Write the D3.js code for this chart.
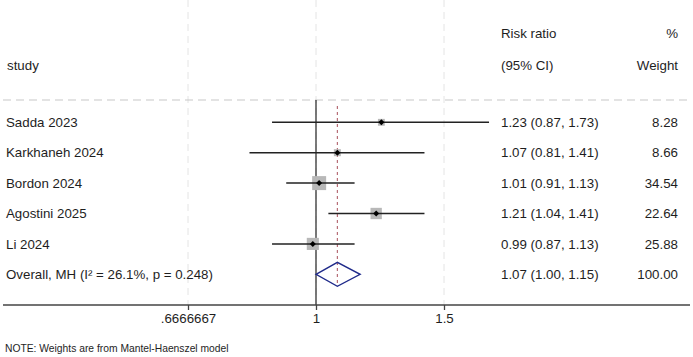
<!DOCTYPE html>
<html>
<head>
<meta charset="utf-8">
<script src="https://cdn.jsdelivr.net/npm/d3@7"></script>
<style>
  html, body { margin: 0; padding: 0; background: #fff; }
  svg { display: block; font-family: "Liberation Sans", Arial, Helvetica, sans-serif; }
</style>
</head>
<body>
<svg id="chart" width="693" height="357"></svg>
<script>
// ---- data ----
const studies = ["Sadda 2023", "Karkhaneh 2024", "Bordon 2024", "Agostini 2025", "Li 2024"];
const rr      = [1.23, 1.07, 1.01, 1.21, 0.99];
const ciLow   = [0.87, 0.81, 0.91, 1.04, 0.87];
const ciHigh  = [1.73, 1.41, 1.13, 1.41, 1.13];
const weights = [8.28, 8.66, 34.54, 22.64, 25.88];
const ciText  = ["1.23 (0.87, 1.73)", "1.07 (0.81, 1.41)", "1.01 (0.91, 1.13)", "1.21 (1.04, 1.41)", "0.99 (0.87, 1.13)"];
const weightText = ["8.28", "8.66", "34.54", "22.64", "25.88"];
const overallLabel = "Overall, MH (I\u00B2 = 26.1%, p = 0.248)";
const overallRR = 1.07, overallLow = 1.00, overallHigh = 1.15;
const overallCIText = "1.07 (1.00, 1.15)";
const overallWeightText = "100.00";
const tickValues = [2/3, 1, 1.5];
const tickLabels = [".6666667", "1", "1.5"];
const note = "NOTE: Weights are from Mantel-Haenszel model";

// ---- layout ----
const svg = d3.select("#chart");
const textColor = "#1e1e1e";
const x = d3.scaleLog().domain([2/3, 1.5]).range([188, 444]);
const rowLabels = studies.concat([overallLabel]);
const y = d3.scalePoint().domain(rowLabels).range([122.3, 274.3]);
const axisY = 305, headerLineY = 100;
const boxSide = d3.scaleSqrt().domain([0, 100]).range([0, 23.8]);

// light vertical grid lines
svg.append("g").selectAll("line").data(tickValues).join("line")
  .attr("x1", d => x(d)).attr("x2", d => x(d))
  .attr("y1", 0).attr("y2", axisY)
  .attr("stroke", "#e4e4e4").attr("stroke-width", 1)
  .attr("stroke-dasharray", "7,5");

// header dashed line
svg.append("line")
  .attr("x1", 3).attr("x2", 690).attr("y1", headerLineY).attr("y2", headerLineY)
  .attr("stroke", "#c8c8c8").attr("stroke-width", 1.2).attr("stroke-dasharray", "8,5");

// null line at 1
svg.append("line")
  .attr("x1", x(1)).attr("x2", x(1)).attr("y1", headerLineY).attr("y2", axisY)
  .attr("stroke", "#333").attr("stroke-width", 1.3);

// overall effect dashed line
svg.append("line")
  .attr("x1", x(overallRR)).attr("x2", x(overallRR))
  .attr("y1", 106).attr("y2", y(overallLabel) + 12)
  .attr("stroke", "#b0606a").attr("stroke-width", 1.1).attr("stroke-dasharray", "3,3");

// study rows
const rows = studies.map((s, i) => ({s, rr: rr[i], lo: ciLow[i], hi: ciHigh[i], w: weights[i], ci: ciText[i], wt: weightText[i]}));

const g = svg.append("g");
// weight boxes
g.selectAll("rect.box").data(rows).join("rect")
  .attr("class", "box")
  .attr("x", d => x(d.rr) - boxSide(d.w) / 2)
  .attr("y", d => y(d.s) - boxSide(d.w) / 2)
  .attr("width", d => boxSide(d.w))
  .attr("height", d => boxSide(d.w))
  .attr("fill", "#b8b8b8");
// CI lines
g.selectAll("line.ci").data(rows).join("line")
  .attr("class", "ci")
  .attr("x1", d => x(d.lo)).attr("x2", d => x(d.hi))
  .attr("y1", d => y(d.s)).attr("y2", d => y(d.s))
  .attr("stroke", "#222").attr("stroke-width", 1.5);
// point markers
g.selectAll("path.pt").data(rows).join("path")
  .attr("class", "pt")
  .attr("d", d3.symbol(d3.symbolSquare, 18)())
  .attr("transform", d => `translate(${x(d.rr)},${y(d.s)}) rotate(45)`)
  .attr("fill", "#000");

// overall diamond
const oy = y(overallLabel);
svg.append("path")
  .attr("d", `M${x(overallLow)},${oy} L${x(overallRR)},${oy - 12} L${x(overallHigh)},${oy} L${x(overallRR)},${oy + 12} Z`)
  .attr("fill", "none").attr("stroke", "#1f2a8a").attr("stroke-width", 1.4);

// text columns
const fs = 13.3;
svg.append("text").attr("x", 7).attr("y", 70).attr("font-size", fs).attr("fill", textColor).text("study");
svg.append("text").attr("x", 501).attr("y", 38).attr("font-size", fs).attr("fill", textColor).text("Risk ratio");
svg.append("text").attr("x", 501).attr("y", 70).attr("font-size", fs).attr("fill", textColor).text("(95% CI)");
svg.append("text").attr("x", 678).attr("y", 38).attr("font-size", fs).attr("fill", textColor).attr("text-anchor", "end").text("%");
svg.append("text").attr("x", 678).attr("y", 70).attr("font-size", fs).attr("fill", textColor).attr("text-anchor", "end").text("Weight");

const allRows = rows.map(d => ({label: d.s, ci: d.ci, wt: d.wt}))
  .concat([{label: overallLabel, ci: overallCIText, wt: overallWeightText}]);
const tg = svg.append("g").attr("font-size", fs).attr("fill", textColor);
tg.selectAll("text.lab").data(allRows).join("text").attr("class", "lab")
  .attr("x", 6).attr("y", d => y(d.label) + 4.7).text(d => d.label);
tg.selectAll("text.ci").data(allRows).join("text").attr("class", "ci")
  .attr("x", 501).attr("y", d => y(d.label) + 4.7).text(d => d.ci);
tg.selectAll("text.wt").data(allRows).join("text").attr("class", "wt")
  .attr("x", 678).attr("y", d => y(d.label) + 4.7).attr("text-anchor", "end").text(d => d.wt);

// x axis
svg.append("line")
  .attr("x1", 3).attr("x2", 690).attr("y1", axisY).attr("y2", axisY)
  .attr("stroke", "#444").attr("stroke-width", 1.4);
const axis = d3.axisBottom(x).tickValues(tickValues)
  .tickFormat((d, i) => tickLabels[i]).tickSize(5).tickPadding(4);
const ag = svg.append("g").attr("transform", `translate(0,${axisY})`).call(axis);
ag.select(".domain").remove();
ag.selectAll(".tick line").attr("stroke", "#444").attr("stroke-width", 1.3);
ag.selectAll(".tick text").attr("font-size", fs).attr("fill", textColor)
  .attr("font-family", "'Liberation Sans', Arial, Helvetica, sans-serif");

// note
svg.append("text").attr("x", 5).attr("y", 352).attr("font-size", 10.3).attr("fill", textColor).text(note);
</script>
</body>
</html>
